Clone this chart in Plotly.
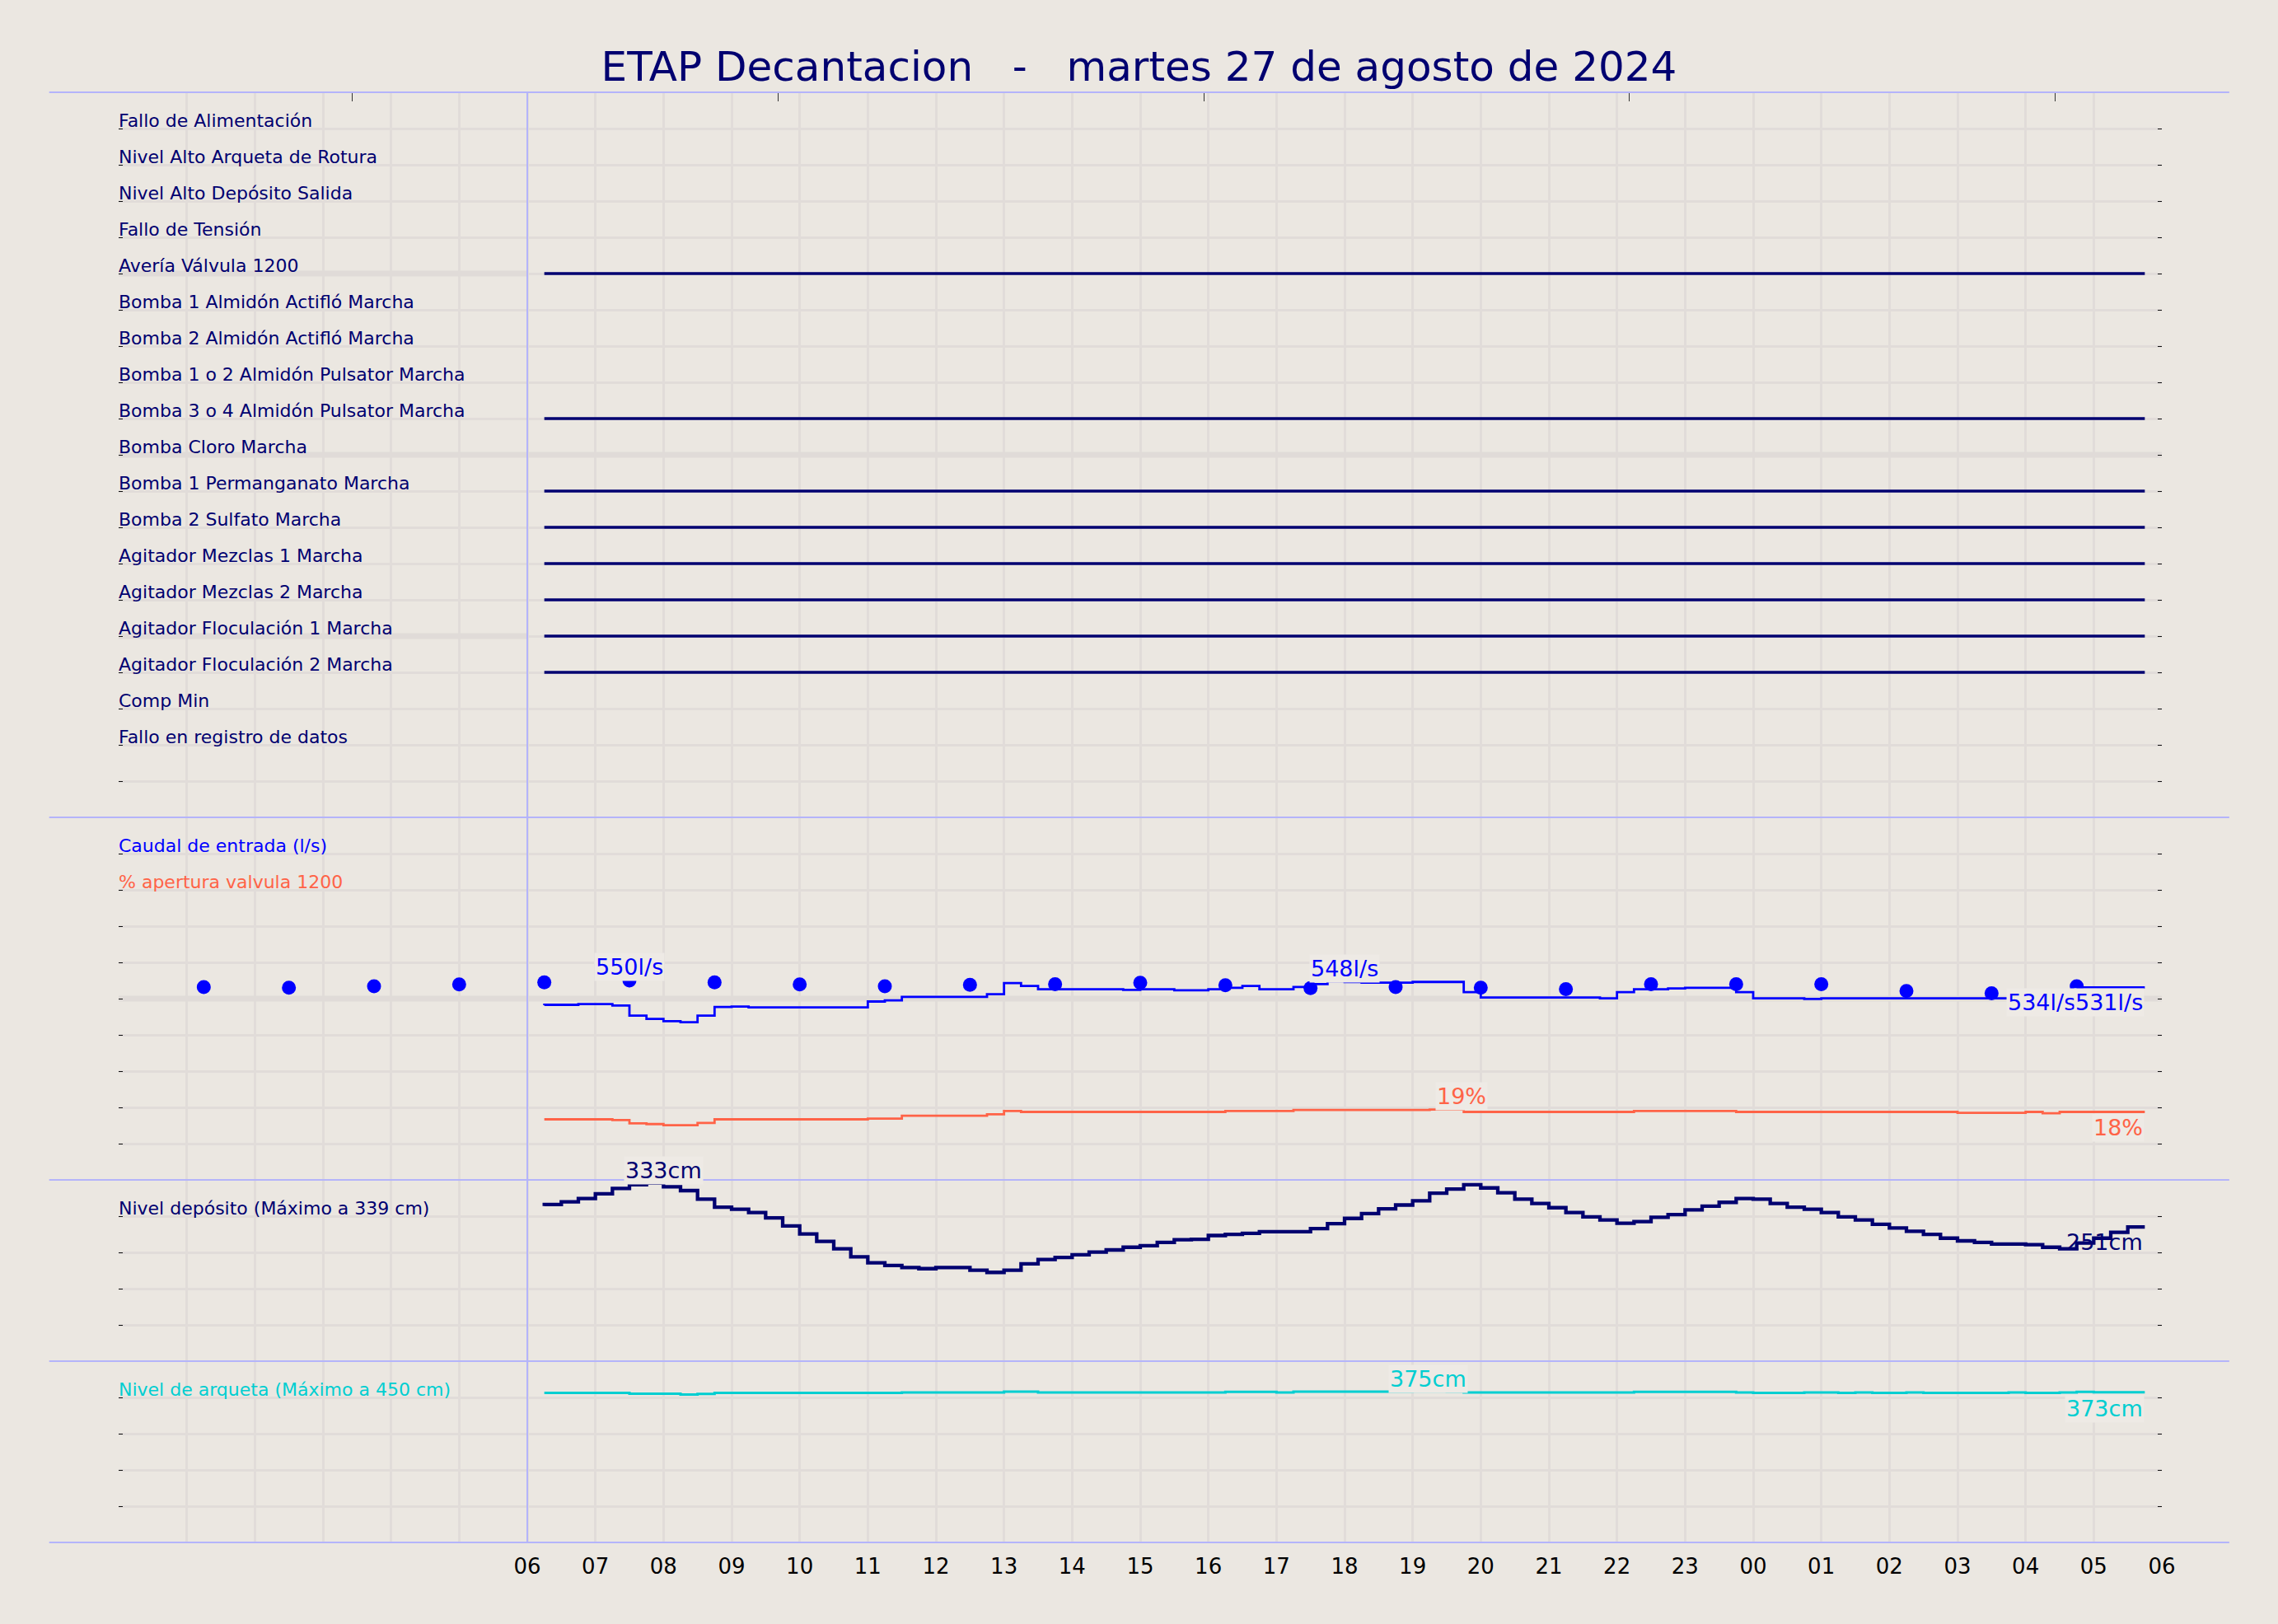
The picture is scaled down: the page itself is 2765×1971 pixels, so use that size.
import pandas as pd
import plotly.graph_objects as go

FONT = "DejaVu Sans"
BG = "#ebe7e1"
GRID = "#e1dcd9"
BAND = "#e0dbd8"
SEP = "#b4b4fa"
NAVY = "#000070"
BLUE = "#0000ff"
TOMATO = "#ff6347"
CYAN = "#00ced1"

# ---- panel 1: alarm / status rows ----
alarm_labels = [
    "Fallo de Alimentación",
    "Nivel Alto Arqueta de Rotura",
    "Nivel Alto Depósito Salida",
    "Fallo de Tensión",
    "Avería Válvula 1200",
    "Bomba 1 Almidón Actifló Marcha",
    "Bomba 2 Almidón Actifló Marcha",
    "Bomba 1 o 2 Almidón Pulsator Marcha",
    "Bomba 3 o 4 Almidón Pulsator Marcha",
    "Bomba Cloro Marcha",
    "Bomba 1 Permanganato Marcha",
    "Bomba 2 Sulfato Marcha",
    "Agitador Mezclas 1 Marcha",
    "Agitador Mezclas 2 Marcha",
    "Agitador Floculación 1 Marcha",
    "Agitador Floculación 2 Marcha",
    "Comp Min",
    "Fallo en registro de datos",
]
alarm_on = [0, 0, 0, 0, 1, 0, 0, 0, 1, 0, 1, 1, 1, 1, 1, 1, 0, 0]

# grey reference bands (row, end time)
band_rows = [5, 10, 15]
band_until = ["2024-08-27 06:00", "2024-08-28 06:00", "2024-08-27 06:00"]
caudal_band = 500

# ---- 15 min samples 06:15 -> 05:45 ----
times = pd.date_range("2024-08-27 06:15", "2024-08-28 05:45", freq="15min")

caudal = [482,
          483, 483, 485, 485, 481, 453, 444, 438, 435, 453,
          477, 478, 476, 476, 476, 476, 476, 476, 476, 492,
          495, 505, 505, 505, 505, 505, 512, 543, 535, 526,
          526, 526, 526, 526, 524, 526, 526, 523, 523, 526,
          530, 535, 526, 526, 532, 540, 548, 546, 544, 544,
          544, 546, 546, 546, 518, 503, 503, 503, 503, 503,
          503, 503, 501, 518, 526, 526, 528, 530, 530, 530,
          518, 501, 501, 501, 499, 501, 501, 501, 501, 501,
          501, 501, 501, 501, 501, 501, 501, 501, 501, 501,
          531, 531, 531, 531]

apertura = [16.7,
            16.7, 16.7, 16.7, 16.7, 16.5, 15.6, 15.4, 15.1, 15.1, 15.7,
            16.7, 16.7, 16.7, 16.7, 16.7, 16.7, 16.7, 16.7, 16.7, 16.9,
            16.9, 17.7, 17.7, 17.7, 17.7, 17.7, 18.1, 19.0, 18.75, 18.75,
            18.75, 18.75, 18.75, 18.75, 18.75, 18.75, 18.75, 18.75, 18.75, 18.75,
            19.0, 19.0, 19.0, 19.0, 19.3, 19.3, 19.3, 19.3, 19.3, 19.3,
            19.3, 19.3, 19.4, 19.4, 18.75, 18.75, 18.75, 18.75, 18.75, 18.75,
            18.75, 18.75, 18.75, 18.75, 19.0, 19.0, 19.0, 19.0, 19.0, 19.0,
            18.75, 18.75, 18.75, 18.75, 18.75, 18.75, 18.75, 18.75, 18.75, 18.75,
            18.75, 18.75, 18.75, 18.5, 18.5, 18.5, 18.5, 18.75, 18.4, 18.75,
            18.75, 18.75, 18.75, 18.75]

deposito = [290,
            293, 298, 304, 313, 323, 330, 333, 326, 319, 303,
            288, 284, 278, 268, 253, 238, 224, 210, 195, 184,
            179, 175, 173, 175, 175, 170, 166, 170, 182, 190,
            194, 199, 204, 208, 213, 216, 222, 227, 228, 235,
            237, 239, 242, 242, 242, 248, 257, 267, 276, 285,
            292, 300, 314, 322, 330, 324, 315, 303, 295, 287,
            278, 270, 264, 258, 261, 269, 274, 283, 290, 297,
            304, 303, 295, 288, 284, 278, 270, 264, 256, 249,
            243, 237, 230, 225, 222, 219, 219, 218, 213, 210,
            221, 230, 241, 251]

arqueta = [371,
           371, 371, 371, 371, 371, 369.3, 369.3, 369.3, 367, 368.5,
           371, 371, 371, 371, 371, 371, 371, 371, 371, 371,
           371, 372.3, 372.3, 372.3, 372.3, 372.3, 372.3, 374.5, 374.5, 372.3,
           372.3, 372.3, 372.3, 372.3, 372.3, 372.3, 372.3, 372.3, 372.3, 372.3,
           373.8, 373.8, 373.8, 372.3, 374.5, 374.5, 374.5, 374.5, 374.5, 374.5,
           374.5, 375, 375, 374.5, 372.3, 372.3, 372.3, 372.3, 372.3, 372.3,
           372.3, 372.3, 372.3, 372.3, 373.8, 373.8, 373.8, 373.8, 373.8, 373.8,
           372.3, 371, 371, 371, 372.3, 372.3, 371, 372.3, 371, 371,
           372.3, 371, 371, 371, 371, 371, 372.3, 371, 371, 372.3,
           373.8, 373, 373, 373]

# caudal reference points every 75 min
ref_times = pd.date_range("2024-08-27 01:15", periods=23, freq="75min")
caudal_ref = [532, 530, 534, 539, 545, 550, 545, 539, 534, 538, 540, 544,
              537, 529, 532, 530, 526, 540, 540, 540, 521, 515, 534]

# axis ticks
hours = pd.date_range("2024-08-27 00:00", "2024-08-28 06:00", freq="1h")
start_mark = pd.Timestamp("2024-08-27 06:00")
hour_text = ["" if h < start_mark else h.strftime("%H") for h in hours]
top_ticks = ["2024-08-27 03:26", "2024-08-27 09:41", "2024-08-27 15:56",
             "2024-08-27 22:11", "2024-08-28 04:26"]

# axis spans and panel domains (paper units)
panels = {"y": (0.5, 1.0, 0, 20), "y2": (0.25, 0.5, 0, 1000), "y5": (0.25, 0.5, 0, 100),
          "y3": (0.125, 0.25, 0, 339), "y4": (0.0, 0.125, 0, 450)}


def to_paper(axis, v):
    d0, d1, r0, r1 = panels[axis]
    return d0 + (d1 - d0) * (v - r0) / (r1 - r0)


# value labels: text, time, value, axis, colour, anchor, boxed
value_labels = [
    ("550l/s", "2024-08-27 07:30", 587, "y2", BLUE, "center", True),
    ("548l/s", "2024-08-27 18:00", 583, "y2", BLUE, "center", True),
    ("534l/s", "2024-08-28 04:45", 490, "y2", BLUE, "right", True),
    ("531l/s", "2024-08-28 05:45", 490, "y2", BLUE, "right", True),
    ("19%", "2024-08-27 19:43", 23.1, "y5", TOMATO, "center", True),
    ("18%", "2024-08-28 05:45", 14.5, "y5", TOMATO, "right", True),
    ("333cm", "2024-08-27 08:00", 357, "y3", NAVY, "center", True),
    ("251cm", "2024-08-28 05:45", 223, "y3", NAVY, "right", False),
    ("375cm", "2024-08-27 19:14", 407, "y4", CYAN, "center", True),
    ("373cm", "2024-08-28 05:45", 333, "y4", CYAN, "right", True),
]

panel_labels = [
    ("Caudal de entrada (l/s)", 900, "y2", BLUE),
    ("% apertura valvula 1200", 800, "y2", TOMATO),
    ("Nivel depósito (Máximo a 339 cm)", 339 * 4 / 5, "y3", NAVY),
    ("Nivel de arqueta (Máximo a 450 cm)", 360, "y4", CYAN),
]

fig = go.Figure()

# grey bands
for row, end in zip(band_rows, band_until):
    fig.add_trace(go.Scatter(x=[hours[0], end], y=[row, row], mode="lines",
                             line=dict(color=BAND, width=7), xaxis="x", yaxis="y",
                             hoverinfo="skip", showlegend=False))
fig.add_trace(go.Scatter(x=[hours[0], hours[-1]], y=[caudal_band, caudal_band], mode="lines",
                         line=dict(color=BAND, width=7), xaxis="x2", yaxis="y2",
                         hoverinfo="skip", showlegend=False))

# alarm lines
ax_x, ax_y = [], []
for i, on in enumerate(alarm_on):
    if on:
        ax_x += [times[0], times[-1], None]
        ax_y += [i + 1, i + 1, None]
fig.add_trace(go.Scatter(x=ax_x, y=ax_y, mode="lines", line=dict(color=NAVY, width=3.3),
                         xaxis="x", yaxis="y", showlegend=False))

# caudal + apertura
fig.add_trace(go.Scatter(x=times, y=caudal, mode="lines", line=dict(color=BLUE, width=2.8, shape="vh"),
                         xaxis="x2", yaxis="y2", showlegend=False))
fig.add_trace(go.Scatter(x=ref_times, y=caudal_ref, mode="markers", marker=dict(color=BLUE, size=17),
                         xaxis="x2", yaxis="y2", showlegend=False))
fig.add_trace(go.Scatter(x=times, y=apertura, mode="lines", line=dict(color=TOMATO, width=2.8, shape="vh"),
                         xaxis="x2", yaxis="y5", showlegend=False))

# depósito / arqueta
fig.add_trace(go.Scatter(x=times, y=deposito, mode="lines", line=dict(color=NAVY, width=4.3, shape="vh"),
                         xaxis="x3", yaxis="y3", showlegend=False))
fig.add_trace(go.Scatter(x=times, y=arqueta, mode="lines", line=dict(color=CYAN, width=3, shape="vh"),
                         xaxis="x4", yaxis="y4", showlegend=False))

# invisible trace so the top tick axis is drawn
fig.add_trace(go.Scatter(x=[hours[0]], y=[0], mode="markers", marker=dict(opacity=0),
                         xaxis="x5", yaxis="y", hoverinfo="skip", showlegend=False))

xr = [hours[0], hours[-1]]


def xax(anchor, labels=False):
    d = dict(domain=[0, 1], anchor=anchor, range=xr, type="date",
             tickvals=hours, ticktext=hour_text, showticklabels=labels, ticks="",
             showgrid=True, gridcolor=GRID, gridwidth=3, zeroline=False, showline=False,
             tickfont=dict(family=FONT, size=26, color="black"))
    if anchor != "y4":
        d["matches"] = "x4"
    else:
        d["ticklabelstandoff"] = 11
    return d


def yax(key, vals, anchor, reverse=False):
    d0, d1, r0, r1 = panels[key]
    rng = [r1, r0] if reverse else [r0, r1]
    return dict(domain=[d0, d1], range=rng, tickvals=vals, showticklabels=False, anchor=anchor,
                ticks="inside", ticklen=5, tickwidth=1.3, tickcolor="#111", mirror="ticks",
                showgrid=True, gridcolor=GRID, gridwidth=2.5, zeroline=False, showline=False)


annotations = []
for i, lab in enumerate(alarm_labels):
    annotations.append(dict(x=0, xref="paper", y=i + 1, yref="y", text=lab, showarrow=False,
                            xanchor="left", yanchor="bottom", yshift=-5, xshift=-2,
                            font=dict(family=FONT, size=22, color=NAVY)))
for text, yv, yref, col in panel_labels:
    annotations.append(dict(x=0, xref="paper", y=yv, yref=yref, text=text, showarrow=False,
                            xanchor="left", yanchor="bottom", yshift=-5, xshift=-2,
                            font=dict(family=FONT, size=22, color=col)))
for text, t, v, axis, col, anchor, boxed in value_labels:
    annotations.append(dict(x=t, xref="x2", y=to_paper(axis, v), yref="paper", text=text,
                            showarrow=False, xanchor=anchor, yanchor="middle",
                            bgcolor="#eeeae5" if boxed else None, borderpad=1,
                            font=dict(family=FONT, size=27, color=col)))

shapes = []
for yp in [1, 0.5, 0.25, 0.125, 0]:
    shapes.append(dict(type="line", xref="paper", yref="paper", x0=-0.034, x1=1.033, y0=yp, y1=yp,
                       line=dict(color=SEP, width=2), layer="above"))
shapes.append(dict(type="line", xref="x", yref="paper", x0=start_mark, x1=start_mark, y0=0, y1=1,
                   line=dict(color=SEP, width=2), layer="above"))

title = "ETAP Decantacion" + "\u00a0" * 3 + "-" + "\u00a0" * 3 + "martes 27 de agosto de 2024"

fig.update_layout(
    width=2765, height=1971,
    paper_bgcolor=BG, plot_bgcolor=BG,
    margin=dict(l=144, r=141, t=112, b=99),
    title=dict(text=title, x=0.5, xanchor="center", y=1 - 80 / 1971, yanchor="middle",
               font=dict(family=FONT, size=50, color=NAVY)),
    xaxis=xax("y"), xaxis2=xax("y2"), xaxis3=xax("y3"), xaxis4=xax("y4", labels=True),
    xaxis5=dict(overlaying="x", anchor="y", side="top", range=xr, type="date",
                tickvals=top_ticks, showticklabels=False, ticks="inside", ticklen=11,
                tickwidth=1, tickcolor="#333", showgrid=False, zeroline=False, showline=False),
    yaxis=yax("y", list(range(21)), "x", reverse=True),
    yaxis2=yax("y2", list(range(0, 1001, 100)), "x2"),
    yaxis3=yax("y3", [339 * k / 5 for k in range(6)], "x3"),
    yaxis4=yax("y4", list(range(0, 451, 90)), "x4"),
    yaxis5=dict(overlaying="y2", anchor="x2", range=[0, 100], showgrid=False, showticklabels=False,
                ticks="", zeroline=False, showline=False),
    annotations=annotations,
    shapes=shapes,
    showlegend=False,
)

fig.write_html("out.html", config={"displayModeBar": False},
               post_script="document.body.style.margin='0';")
